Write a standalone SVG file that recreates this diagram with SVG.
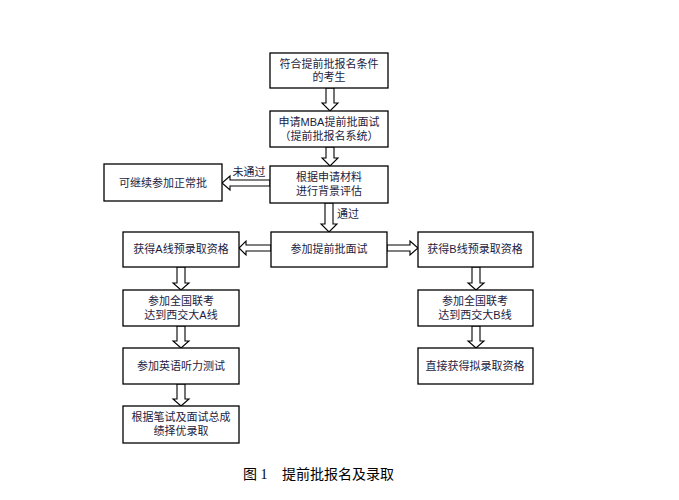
<svg xmlns="http://www.w3.org/2000/svg" width="679" height="500" viewBox="0 0 679 500">
<style>
.box{fill:#fff;stroke:#000;stroke-width:1.3}
.t{font-family:"Liberation Sans","Noto Sans CJK SC",sans-serif;font-size:11px;fill:#1c1c40;text-anchor:middle}
.arr{fill:#fff;stroke:#000;stroke-width:1.1}
.cap{font-family:"Liberation Serif","Noto Sans CJK SC",serif;font-size:14px;fill:#000}
</style>
<rect width="679" height="500" fill="#fff"/>
<g id="connectors">
<path class="arr" d="M326 88 V103 H322 L330 111 L338 103 H334 V88 Z"/>
<path class="arr" d="M326 147 V158 H322 L330 166 L338 158 H334 V147 Z"/>
<path class="arr" d="M325 203 V224 H321 L329 232 L337 224 H333 V203 Z"/>
<path class="arr" d="M270 180 H230 V176 L222 183 L230 190 V186 H270 Z"/>
<path class="arr" d="M271 245 H246 V241 L239 248 L246 255 V251 H271 Z"/>
<path class="arr" d="M387 245 H410 V241 L418 248 L410 255 V251 H387 Z"/>
<path class="arr" d="M177 267 V283 H173 L181 290 L189 283 H185 V267 Z"/>
<path class="arr" d="M177 326 V341 H173 L181 348 L189 341 H185 V326 Z"/>
<path class="arr" d="M177 384 V399 H173 L181 406 L189 399 H185 V384 Z"/>
<path class="arr" d="M472 267 V283 H468 L476 290 L484 283 H480 V267 Z"/>
<path class="arr" d="M472 326 V341 H468 L476 348 L484 341 H480 V326 Z"/>
<text class="t" x="249" y="176">未通过</text>
<text class="t" x="348" y="218">通过</text>
</g>
<g id="n1"><rect class="box" x="270" y="53" width="118" height="35"/><text class="t" x="329" y="68">符合提前批报名条件</text><text class="t" x="329" y="81">的考生</text></g>
<g id="n2"><rect class="box" x="270" y="111" width="118" height="36"/><text class="t" x="329" y="126">申请MBA提前批面试</text><text class="t" x="329" y="140">（提前批报名系统）</text></g>
<g id="n3"><rect class="box" x="270" y="166" width="118" height="37"/><text class="t" x="329" y="181">根据申请材料</text><text class="t" x="329" y="195">进行背景评估</text></g>
<g id="n4"><rect class="box" x="104" y="164" width="118" height="37"/><text class="t" x="163" y="187">可继续参加正常批</text></g>
<g id="n5"><rect class="box" x="271" y="232" width="116" height="35"/><text class="t" x="329" y="253">参加提前批面试</text></g>
<g id="n6"><rect class="box" x="123" y="232" width="116" height="35"/><text class="t" x="181" y="253">获得A线预录取资格</text></g>
<g id="n7"><rect class="box" x="418" y="232" width="115" height="35"/><text class="t" x="475" y="253">获得B线预录取资格</text></g>
<g id="n8"><rect class="box" x="123" y="290" width="116" height="36"/><text class="t" x="181" y="305">参加全国联考</text><text class="t" x="181" y="319">达到西交大A线</text></g>
<g id="n9"><rect class="box" x="123" y="348" width="116" height="36"/><text class="t" x="181" y="370">参加英语听力测试</text></g>
<g id="n10"><rect class="box" x="123" y="406" width="116" height="37"/><text class="t" x="181" y="421">根据笔试及面试总成</text><text class="t" x="181" y="435">绩择优录取</text></g>
<g id="n11"><rect class="box" x="418" y="290" width="115" height="36"/><text class="t" x="475" y="305">参加全国联考</text><text class="t" x="475" y="319">达到西交大B线</text></g>
<g id="n12"><rect class="box" x="418" y="348" width="115" height="36"/><text class="t" x="475" y="370">直接获得拟录取资格</text></g>
<text class="cap" x="243" y="479">图 1</text>
<text class="cap" x="282" y="479">提前批报名及录取</text>
</svg>
